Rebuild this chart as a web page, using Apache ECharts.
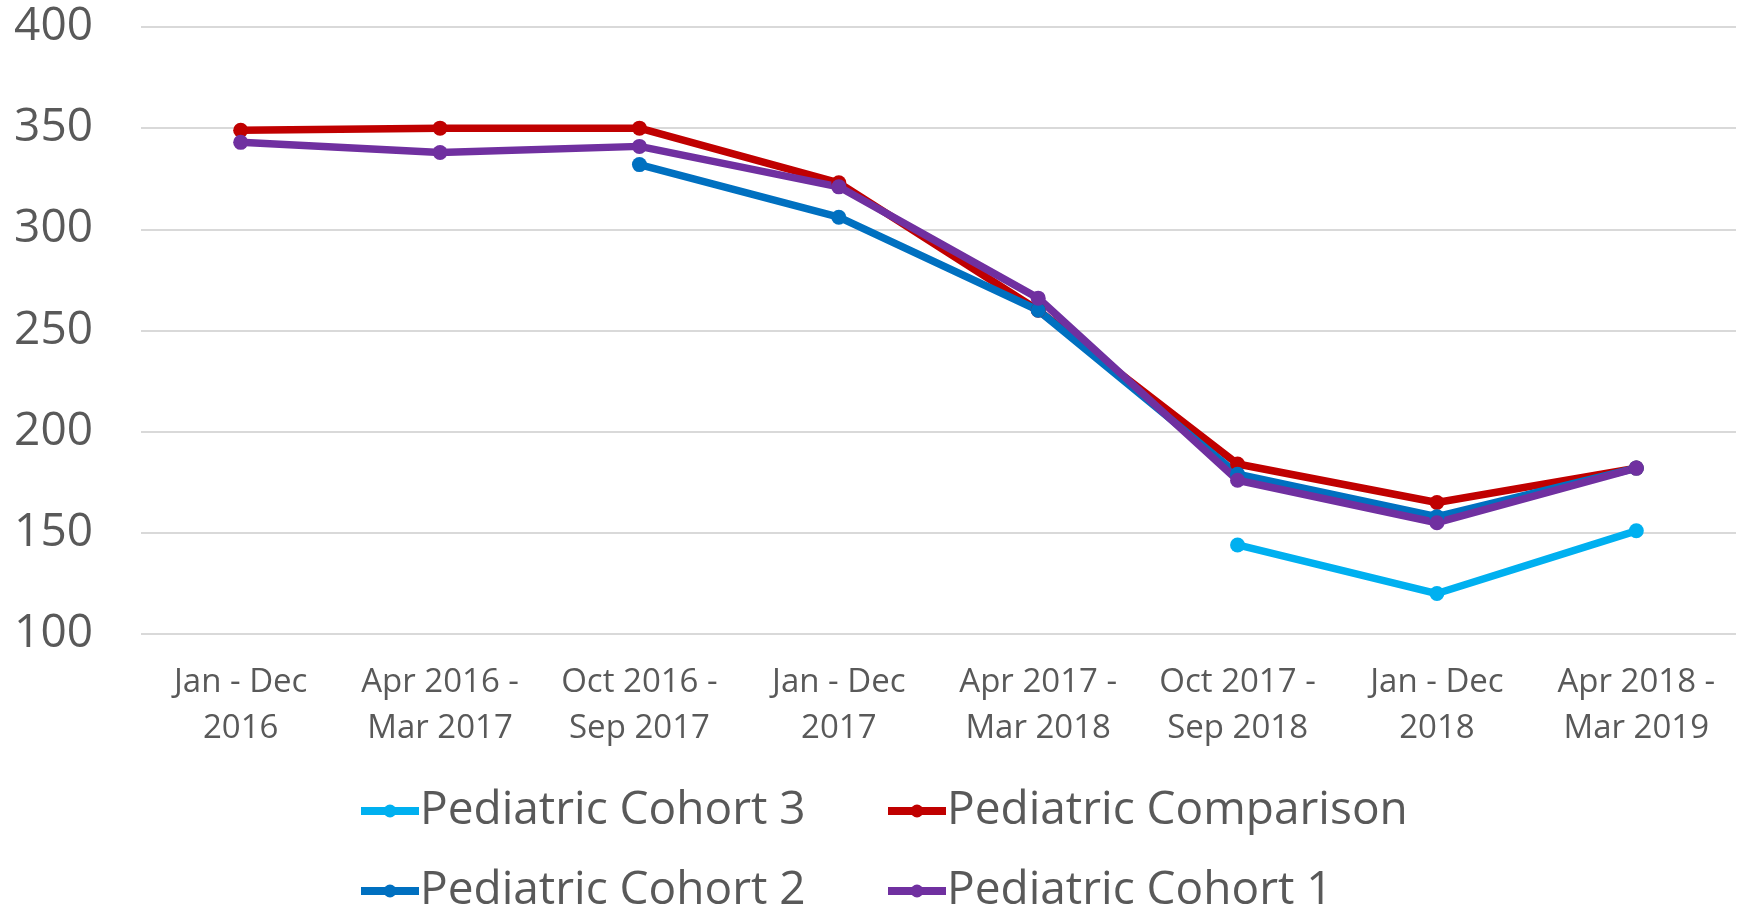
<!DOCTYPE html>
<html>
<head>
<meta charset="utf-8">
<script src="https://cdn.jsdelivr.net/npm/echarts@6/dist/echarts.min.js"></script>
<style>
html,body{margin:0;padding:0;background:#fff;}
#chart{width:1744px;height:908px;}
</style>
</head>
<body>
<div id="chart"></div>
<script>
const categories = ["Jan - Dec\n2016","Apr 2016 -\nMar 2017","Oct 2016 -\nSep 2017","Jan - Dec\n2017","Apr 2017 -\nMar 2018","Oct 2017 -\nSep 2018","Jan - Dec\n2018","Apr 2018 -\nMar 2019"];
const cohort3 = [null,null,null,null,null,144,120,151];
const comparison = [349,350,350,323,260,184,165,182];
const cohort2 = [null,null,332,306,260,179,158,182];
const cohort1 = [343,338,341,321,266,176,155,182];
const yTicks = {min:100,max:400,interval:50};

const FONT = "'Open Sans', sans-serif";
const GREY = "#595959";

function mkSeries(name, data, color){
  return {name:name,type:'line',data:data,connectNulls:false,
    symbol:'circle',symbolSize:15,
    lineStyle:{width:7.5,color:color},itemStyle:{color:color},
    emphasis:{disabled:true},animation:false};
}
function mkLegend(name,left,top){
  return {data:[name],left:left,top:top,itemWidth:58,itemHeight:16,itemGap:0,
    lineStyle:{width:8},
    textStyle:{fontFamily:FONT,fontSize:46,color:GREY,padding:[0,0,0,-4]},
    selectedMode:false};
}
const chart = echarts.init(document.getElementById('chart'),null,{renderer:'canvas'});
chart.setOption({
  backgroundColor:'#fff',
  animation:false,
  grid:{left:141,right:8,top:27,bottom:274,containLabel:false},
  legend:[
    mkLegend('Pediatric Cohort 3',352,783),
    mkLegend('Pediatric Comparison',879,783),
    mkLegend('Pediatric Cohort 2',352,863),
    mkLegend('Pediatric Cohort 1',879,863)
  ],
  xAxis:{type:'category',data:categories,boundaryGap:true,
    axisLine:{show:false},axisTick:{show:false},
    axisLabel:{fontFamily:FONT,fontSize:33,color:GREY,lineHeight:46,margin:26,interval:0}},
  yAxis:{type:'value',min:yTicks.min,max:yTicks.max,interval:yTicks.interval,
    axisLine:{show:false},axisTick:{show:false},
    splitLine:{lineStyle:{color:'#D9D9D9',width:2}},
    axisLabel:{fontFamily:FONT,fontSize:46,color:GREY,margin:48}},
  series:[
    mkSeries('Pediatric Cohort 3',cohort3,'#00B0F0'),
    mkSeries('Pediatric Comparison',comparison,'#C00000'),
    mkSeries('Pediatric Cohort 2',cohort2,'#0070C0'),
    mkSeries('Pediatric Cohort 1',cohort1,'#7030A0')
  ]
});
</script>
</body>
</html>
